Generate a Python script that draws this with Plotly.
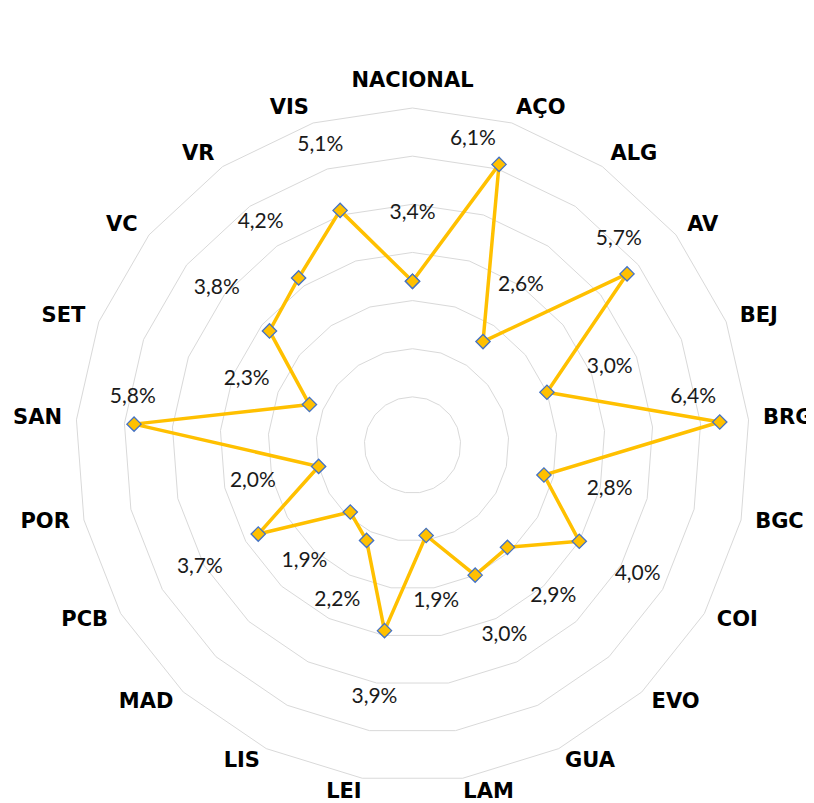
import math
import plotly.graph_objects as go

# Categorias (distritos) e valores em %
categorias = ["NACIONAL", "AÇO", "ALG", "AV", "BEJ", "BRG", "BGC", "COI", "EVO", "GUA", "LAM",
              "LEI", "LIS", "MAD", "PCB", "POR", "SAN", "SET", "VC", "VR", "VIS"]
valores = [3.4, 6.1, 2.6, 5.7, 3.0, 6.4, 2.8, 4.0, 2.9, 3.0, 1.9,
           3.9, 2.2, 1.9, 3.7, 2.0, 5.8, 2.3, 3.8, 4.2, 5.1]

W, H = 814, 803
R_MAX = 7
CX, CY, R_PX = 404.5, 437, 337          # centro e raio do radar (px)
passo = 360 / len(categorias)

# Etiquetas de valor: por defeito um pouco fora do ponto, no mesmo raio;
# algumas foram deslocadas à mão no original (r, ângulo em graus)
DESLOC_ETIQ = 1.4
ajustes_etiq = {"AÇO": (6.46, 11.2), "AV": (6.04, 45.2), "BRG": (5.91, 80.5), "SAN": (5.89, 279.5)}

etiq_r, etiq_theta = [], []
for i, (cat, v) in enumerate(zip(categorias, valores)):
    r, th = ajustes_etiq.get(cat, (v + DESLOC_ETIQ, i * passo))
    etiq_r.append(r)
    etiq_theta.append(th)
etiq_txt = [f"{v:.1f}%".replace(".", ",") for v in valores]

# Nomes das categorias à volta do gráfico, encostados ao lado de fora do anel exterior
cat_theta, cat_r, cat_pos = [], [], []
for i in range(len(categorias)):
    t = i * passo
    s, c = math.sin(math.radians(t)), math.cos(math.radians(t))
    if abs(s) > 0.2:
        pos, r = ("middle right" if s > 0 else "middle left"), 7.3
    elif c > 0:
        pos, r = "top center", 7.33
    else:
        pos, r = ("bottom right" if s > 0 else "bottom left"), 7.08
    cat_theta.append(t)
    cat_r.append(r)
    cat_pos.append(pos)

AMARELO = "#FFC000"
AZUL = "#4472C4"
GRELHA = "#D9D9D9"

fig = go.Figure()

fig.add_trace(go.Scatterpolar(
    r=valores + [valores[0]],
    theta=categorias + [categorias[0]],
    mode="lines+markers",
    line=dict(color=AMARELO, width=3.5),
    marker=dict(symbol="diamond", size=11, color=AMARELO, line=dict(color=AZUL, width=1.3)),
    subplot="polar",
    showlegend=False,
))

fig.add_trace(go.Scatterpolar(
    r=etiq_r,
    theta=etiq_theta,
    mode="text",
    text=etiq_txt,
    textfont=dict(family="Lato", size=21, color="#1a1a1a"),
    subplot="polar2",
    cliponaxis=False,
    showlegend=False,
))

fig.add_trace(go.Scatterpolar(
    r=cat_r,
    theta=cat_theta,
    mode="text",
    text=categorias,
    textposition=cat_pos,
    textfont=dict(family="DejaVu Sans", size=21, color="black", weight="bold"),
    subplot="polar2",
    cliponaxis=False,
    showlegend=False,
))


def dominio(raio):
    # domínio (fração do papel) de um quadrado centrado em (CX, CY)
    yc = H - CY
    return dict(x=[(CX - raio) / W, (CX + raio) / W], y=[max(0, (yc - raio) / H), (yc + raio) / H])


# polar2 (só texto) tem o mesmo centro e a mesma escala, mas vai até à borda de baixo
raio2 = H - CY
escala = R_PX / R_MAX

fig.update_layout(
    width=W, height=H,
    margin=dict(l=0, r=0, t=0, b=0),
    paper_bgcolor="white",
    polar=dict(
        domain=dominio(R_PX),
        bgcolor="white",
        gridshape="linear",
        angularaxis=dict(
            direction="clockwise", rotation=90,
            showgrid=False, showline=True, linecolor=GRELHA, linewidth=1,
            ticks="", showticklabels=False,
        ),
        radialaxis=dict(
            range=[0, R_MAX], dtick=1, showline=False, showticklabels=False, ticks="",
            gridcolor=GRELHA, gridwidth=1,
        ),
    ),
    polar2=dict(
        domain=dominio(raio2),
        bgcolor="rgba(0,0,0,0)",
        angularaxis=dict(direction="clockwise", rotation=90, visible=False),
        radialaxis=dict(range=[0, raio2 / escala], visible=False),
    ),
)

fig.write_html("out.html")
